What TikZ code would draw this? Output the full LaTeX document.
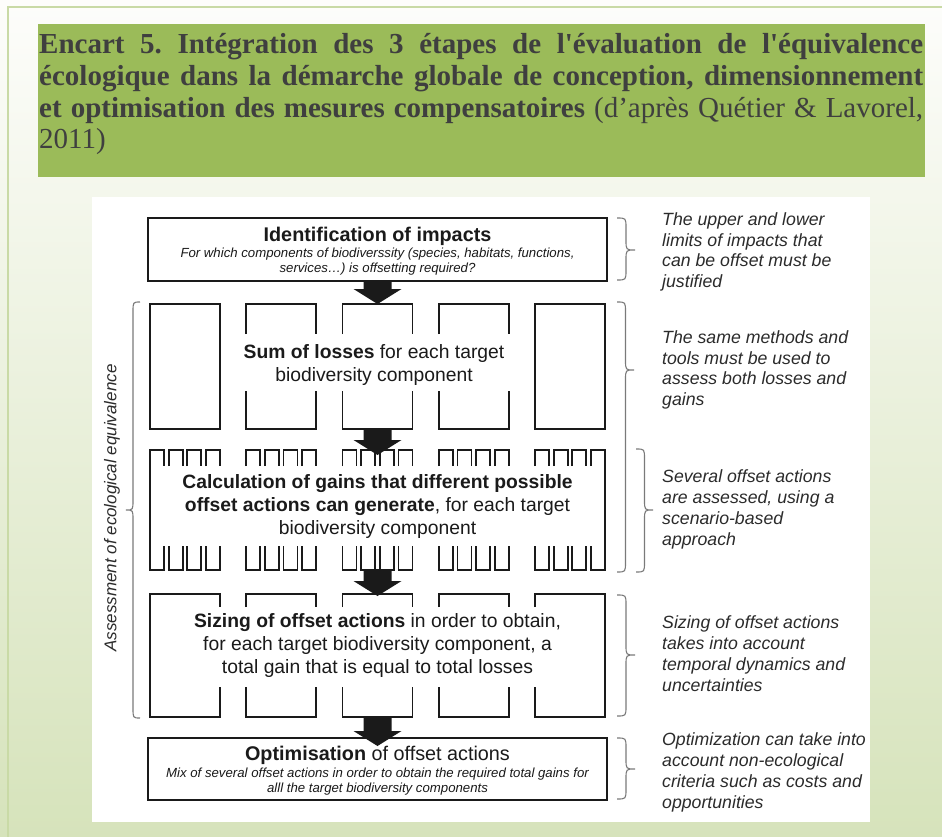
\documentclass[tikz,border=0pt]{standalone}
\usepackage{fontspec}
\setmainfont{Liberation Serif}
\newfontfamily\titlefont[Ligatures=Common]{Liberation Serif}
\newfontfamily\arialfont{Liberation Sans}
\usetikzlibrary{calc}
\definecolor{titlegreen}{HTML}{9BBB59}
\definecolor{titletext}{HTML}{3F3F3F}
\definecolor{bgtop}{HTML}{FDFDFB}
\definecolor{bgbot}{HTML}{D6E3BB}
\definecolor{framegreen}{HTML}{C9DAA6}
\definecolor{bracegray}{HTML}{7A7A7A}
\definecolor{notegray}{HTML}{2B2B2B}
\definecolor{inkblack}{HTML}{1A1A1A}
\newcommand\bigdownarrow[2]{%
  \fill[inkblack] ($(#1)+(-14,0)$) -- ($(#2)+(-14,-15)$) -- ($(#2)+(-24,-15)$) -- (#2)
    -- ($(#2)+(24,-15)$) -- ($(#2)+(14,-15)$) -- ($(#1)+(14,0)$) -- cycle;}
\newcommand\curlybrace[5]{%
  \draw[bracestyle] (#1,#2) .. controls ({#1+(#5)/2},#2) .. ({#1+(#5)/2},{#2+10})
    -- ({#1+(#5)/2},{#4-10}) .. controls ({#1+(#5)/2},#4) .. ({#1+(#5)},#4)
    .. controls ({#1+(#5)/2},#4) .. ({#1+(#5)/2},{#4+10})
    -- ({#1+(#5)/2},{#3-10}) .. controls ({#1+(#5)/2},#3) .. (#1,#3);}
\tikzset{
  frame/.style={draw=inkblack, line width=1.8pt, line join=miter},
  mainbox/.style={draw=inkblack, line width=2pt, fill=white, inner sep=0pt},
  bodytext/.style={font=\arialfont\fontsize{19.3}{23}\selectfont, align=center, inner sep=0pt, text=inkblack},
  subtext/.style={font=\arialfont\itshape\fontsize{13.2}{15}\selectfont, align=center, inner sep=0pt, text=inkblack},
  notetext/.style={font=\arialfont\itshape\fontsize{17.7}{20.8}\selectfont, align=left, anchor=west, inner sep=0pt, text=notegray},
  bracestyle/.style={draw=bracegray, line width=1.1pt},
}
\begin{document}
\begin{tikzpicture}[x=1pt,y=-1pt]
\useasboundingbox (0,0) rectangle (942,837);
\shade[top color=bgtop, bottom color=bgbot] (0,0) rectangle (942,837);
\draw[framegreen, line width=2pt] (8,837) -- (8,7) -- (942,7);
% title
\node[fill=titlegreen, minimum width=887pt, minimum height=153pt, anchor=north west, inner sep=0pt] (titlebox) at (38,24) {};
\node[anchor=north west, inner sep=0pt, text width=884pt, align=justify, text=titletext,
      font=\titlefont\fontsize{29}{31.6}\selectfont] (title) at (39,33.5)
 {\frenchspacing\hyphenpenalty=10000\textbf{Encart 5. Intégration des 3 étapes de l'évaluation de l'équivalence\linebreak
  écologique dans la démarche globale de conception, dimensionnement\linebreak
  et optimisation des mesures compensatoires} (d’après Quétier \& Lavorel,\linebreak
  2011)};
% white panel
\node[fill=white, minimum width=778pt, minimum height=625pt, anchor=north west, inner sep=0pt] (panel) at (92,197) {};
% identification
\node[mainbox, minimum width=459pt, minimum height=63pt] (ident) at (377.5,249.5) {};
\node[font=\arialfont\bfseries\fontsize{19.8}{22}\selectfont, inner sep=0pt, text=inkblack] (identtitle) at (377.5,236) {Identification of impacts};
\node[subtext] (identsub) at (377.5,261.5) {For which components of biodiverssity (species, habitats, functions,\\services…) is offsetting required?};
% sum of losses
\foreach \i in {0,4}{
  \pgfmathsetmacro\L{150+96.25*\i}
  \draw[frame] (\L,304) rectangle ++(70,125);
}
\foreach \i in {1,2,3}{
  \pgfmathsetmacro\L{150+96.25*\i}
  \pgfmathsetmacro\R{\L+70}
  \draw[frame] (\L,334) |- (\R,304) -- (\R,334);
  \draw[frame] (\L,391) |- (\R,429) -- (\R,391);
}
\node[bodytext] (losstxt) at (374,365) {\textbf{Sum of losses} for each target\\biodiversity component};
% gains
\draw[frame] (150,466) -- (150,546);
\draw[frame] (605,466) -- (605,546);
\foreach \i in {0,...,4}{
  \foreach \k in {0,...,3}{
    \pgfmathsetmacro\XA{150+96.25*\i+18.667*\k}
    \pgfmathsetmacro\XB{\XA+14}
    \draw[frame] (\XA,466) |- (\XB,450) -- (\XB,466);
    \draw[frame] (\XA,546) |- (\XB,570) -- (\XB,546);
  }
}
\node[bodytext] (gaintxt) at (377.5,507) {\textbf{Calculation of gains that different possible}\\\textbf{offset actions can generate}, for each target\\biodiversity component};
% sizing
\draw[frame] (150,607) -- (150,687);
\draw[frame] (605,607) -- (605,687);
\foreach \i in {0,...,4}{
  \pgfmathsetmacro\L{150+96.25*\i}
  \pgfmathsetmacro\R{\L+70}
  \draw[frame] (\L,607) |- (\R,594) -- (\R,607);
  \draw[frame] (\L,687) |- (\R,717) -- (\R,687);
}
\node[bodytext] (sizetxt) at (377.5,646) {\textbf{Sizing of offset actions} in order to obtain,\\for each target biodiversity component, a\\total gain that is equal to total losses};
% optimisation
\node[mainbox, minimum width=459pt, minimum height=62pt] (optim) at (377.5,769) {};
\node[font=\arialfont\fontsize{19.8}{22}\selectfont, inner sep=0pt, text=inkblack] (optimtitle) at (377.5,755.5) {\textbf{Optimisation} of offset actions};
\node[subtext] (optimsub) at (377.5,781.5) {Mix of several offset actions in order to obtain the required total gains for\\alll the target biodiversity components};
% arrows
\coordinate (losstop) at (377.5,304);
\coordinate (lossbot) at (377.5,429);
\coordinate (gaintop) at (377.5,455);
\coordinate (gainbot) at (377.5,569);
\coordinate (sizetop) at (377.5,596);
\coordinate (sizebot) at (377.5,717);
\coordinate (optimtip) at ($(optim.north)+(0,9)$);
\bigdownarrow{ident.south}{losstop}
\bigdownarrow{lossbot}{gaintop}
\bigdownarrow{gainbot}{sizetop}
\bigdownarrow{sizebot}{optimtip}
% left brace and label
\curlybrace{140}{302}{718}{510}{-14}
\node[font=\arialfont\itshape\fontsize{17}{19}\selectfont, rotate=90, inner sep=0pt, text=notegray] (assess) at (112,508) {Assessment of ecological equivalence};
% right braces
\curlybrace{617}{218}{280}{250}{18}
\curlybrace{617}{302}{572}{370}{17}
\curlybrace{636}{449}{572}{510}{17}
\curlybrace{617}{595}{716}{655}{18}
\curlybrace{617}{738}{799}{769}{18}
% notes
\node[notetext] (note1) at (662,252) {The upper and lower\\limits of impacts that\\can be offset must be\\justified};
\node[notetext] (note2) at (662,370) {The same methods and\\tools must be used to\\assess both losses and\\gains};
\node[notetext] (note3) at (662,509.5) {Several offset actions\\are assessed, using a\\scenario-based\\approach};
\node[notetext] (note4) at (662,653.5) {Sizing of offset actions\\takes into account\\temporal dynamics and\\uncertainties};
\node[notetext] (note5) at (662,772.5) {Optimization can take into\\account non-ecological\\criteria such as costs and\\opportunities};
\end{tikzpicture}
\end{document}
